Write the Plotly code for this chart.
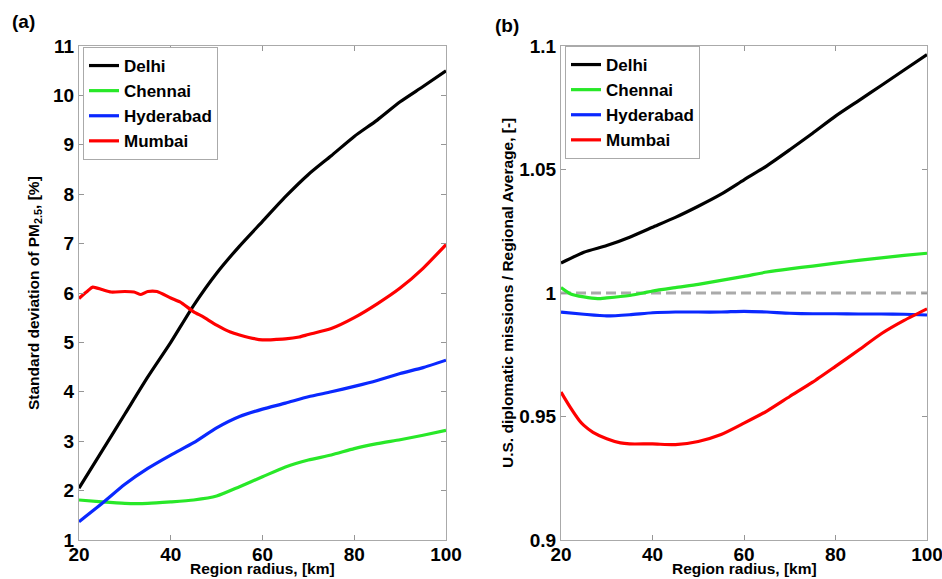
import plotly.graph_objects as go

radius = [20, 25, 30, 35, 40, 45, 50, 55, 60, 65, 70, 75, 80, 85, 90, 95, 100]

# Panel (a): standard deviation of PM2.5 [%]
std_delhi = [2.05, 2.8, 3.55, 4.3, 5.0, 5.75, 6.4, 6.95, 7.45, 7.95, 8.4, 8.78, 9.17, 9.5, 9.87, 10.18, 10.5]
std_chennai = [1.81, 1.77, 1.74, 1.74, 1.77, 1.81, 1.89, 2.08, 2.28, 2.48, 2.62, 2.72, 2.85, 2.95, 3.03, 3.12, 3.22]
std_hyderabad = [1.37, 1.74, 2.13, 2.45, 2.72, 2.97, 3.27, 3.5, 3.65, 3.77, 3.9, 4.0, 4.11, 4.23, 4.37, 4.49, 4.64]
mumbai_x = [20, 22, 23, 25, 27, 30, 32, 33.5, 35, 37, 40, 42, 45, 47, 50, 53, 55, 57, 60, 63, 65, 68, 70, 75, 80, 85, 90, 95, 100]
std_mumbai = [5.89, 6.05, 6.12, 6.07, 6.02, 6.03, 6.02, 5.97, 6.03, 6.03, 5.9, 5.82, 5.62, 5.52, 5.35, 5.21, 5.15, 5.1, 5.05, 5.06, 5.07, 5.11, 5.16, 5.28, 5.5, 5.78, 6.1, 6.5, 6.98]

# Panel (b): monitor / regional average [-]
ratio_delhi = [1.0121, 1.0165, 1.0192, 1.0226, 1.0266, 1.0306, 1.0351, 1.04, 1.0458, 1.0515, 1.058, 1.0647, 1.0716, 1.0778, 1.084, 1.0903, 1.0965]
chennai_x = [20, 22, 25, 28, 30, 35, 38, 40, 45, 50, 55, 60, 65, 70, 75, 80, 85, 90, 95, 100]
ratio_chennai = [1.0022, 0.9997, 0.9984, 0.9977, 0.998, 0.999, 1.0, 1.0008, 1.0022, 1.0035, 1.0051, 1.0067, 1.0085, 1.0098, 1.0109, 1.0121, 1.0132, 1.0142, 1.0152, 1.0161]
ratio_hyderabad = [0.9923, 0.9914, 0.9907, 0.9912, 0.992, 0.9923, 0.9923, 0.9923, 0.9926, 0.9923, 0.9918, 0.9916, 0.9916, 0.9915, 0.9915, 0.9914, 0.9911]
mumbai_bx = [20, 22, 24, 25, 27, 30, 33, 35, 40, 45, 50, 55, 60, 65, 70, 75, 80, 85, 90, 95, 100]
ratio_mumbai = [0.9599, 0.9538, 0.9484, 0.9464, 0.9436, 0.941, 0.9393, 0.9389, 0.9389, 0.9386, 0.9399, 0.9427, 0.9473, 0.9522, 0.9581, 0.9639, 0.9703, 0.9768, 0.9835, 0.9889, 0.9936]
reference_x = [20, 100]
reference_y = [1.0, 1.0]

cities = ["Delhi", "Chennai", "Hyderabad", "Mumbai"]
colors = ["black", "rgb(40,232,40)", "rgb(10,40,255)", "rgb(255,0,0)"]
x_title = "Region radius, [km]"
y_title_a = "Standard deviation of PM<sub>2.5</sub>, [%]"
y_title_b = "U.S. diplomatic missions / Regional Average, [-]"

FONT = "Liberation Sans, Arial, sans-serif"
fig = go.Figure()

left = [(radius, std_delhi), (radius, std_chennai), (radius, std_hyderabad), (mumbai_x, std_mumbai)]
right = [(radius, ratio_delhi), (chennai_x, ratio_chennai), (radius, ratio_hyderabad), (mumbai_bx, ratio_mumbai)]

for name, col, (xs, ys) in zip(cities, colors, left):
    fig.add_trace(go.Scatter(x=xs, y=ys, mode="lines", name=name, line=dict(color=col, width=3.2, shape="spline", smoothing=0.6),
                             xaxis="x", yaxis="y", legend="legend"))

fig.add_trace(go.Scatter(x=reference_x, y=reference_y, mode="lines", showlegend=False,
                         line=dict(color="rgb(170,170,170)", width=3, dash="10px,5px"), xaxis="x2", yaxis="y2"))
for name, col, (xs, ys) in zip(cities, colors, right):
    fig.add_trace(go.Scatter(x=xs, y=ys, mode="lines", name=name, line=dict(color=col, width=3.2, shape="spline", smoothing=0.6),
                             xaxis="x2", yaxis="y2", legend="legend2"))

axis_common = dict(showgrid=False, zeroline=False, showline=True, linecolor="rgb(170,170,170)", linewidth=1,
                   mirror="ticks", ticks="inside", ticklen=5, tickcolor="rgb(150,150,150)", automargin=False,
                   ticklabeloverflow="allow",
                   tickfont=dict(family=FONT, size=19, color="black", weight="bold"))
title_font = dict(family=FONT, size=15.5, color="black", weight="bold")

xdom_a = [79 / 942, 446 / 942]
xdom_b = [561 / 942, 927 / 942]
ydom = [1 - 540 / 579, 1 - 46 / 579]
legend_font = dict(family=FONT, size=17, color="black", weight="bold")
fig.update_layout(
    width=942, height=579, margin=dict(l=0, r=0, t=0, b=0),
    paper_bgcolor="white", plot_bgcolor="white",
    font=dict(family=FONT),
    xaxis=dict(domain=xdom_a, range=[20, 100], tickvals=[20, 40, 60, 80, 100], anchor="y", ticklabelstandoff=-3, **axis_common),
    yaxis=dict(domain=ydom, range=[1, 11], tickvals=list(range(1, 12)), anchor="x", **axis_common),
    xaxis2=dict(domain=xdom_b, range=[20, 100], tickvals=[20, 40, 60, 80, 100], anchor="y2", ticklabelstandoff=-3, **axis_common),
    yaxis2=dict(domain=ydom, range=[0.9, 1.1], tickvals=[0.9, 0.95, 1.0, 1.05, 1.1], ticktext=["0.9", "0.95", "1", "1.05", "1.1"],
                anchor="x2", **axis_common),
    legend=dict(x=83 / 942, y=1 - 47 / 579, xanchor="left", yanchor="top", bgcolor="white",
                bordercolor="rgb(170,170,170)", borderwidth=1, tracegroupgap=0, itemwidth=30, font=legend_font),
    legend2=dict(x=565 / 942, y=1 - 46 / 579, xanchor="left", yanchor="top", bgcolor="white",
                 bordercolor="rgb(170,170,170)", borderwidth=1, tracegroupgap=0, itemwidth=30, font=legend_font),
    annotations=[
        dict(text="(a)", x=10 / 942, y=1 - 22 / 579, xref="paper", yref="paper", xanchor="left", yanchor="middle",
             showarrow=False, font=dict(family=FONT, size=19, color="black", weight="bold")),
        dict(text="(b)", x=493 / 942, y=1 - 25 / 579, xref="paper", yref="paper", xanchor="left", yanchor="middle",
             showarrow=False, font=dict(family=FONT, size=19, color="black", weight="bold")),
        dict(text=x_title, x=sum(xdom_a) / 2, y=0, xref="paper", yref="paper", xanchor="center", yanchor="bottom",
             showarrow=False, font=title_font),
        dict(text=x_title, x=sum(xdom_b) / 2, y=0, xref="paper", yref="paper", xanchor="center", yanchor="bottom",
             showarrow=False, font=title_font),
        dict(text=y_title_a, x=35 / 942, y=sum(ydom) / 2, xref="paper", yref="paper", xanchor="center", yanchor="middle",
             textangle=-90, showarrow=False, font=title_font),
        dict(text=y_title_b, x=508 / 942, y=sum(ydom) / 2, xref="paper", yref="paper", xanchor="center", yanchor="middle",
             textangle=-90, showarrow=False, font=title_font),
    ],
)

fig.write_html("out.html")
